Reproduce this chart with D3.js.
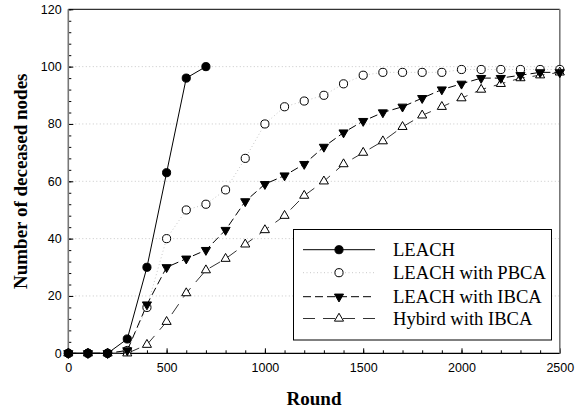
<!DOCTYPE html>
<html><head><meta charset="utf-8">
<script src="https://cdn.jsdelivr.net/npm/d3@7/dist/d3.min.js"></script>
<style>
html,body{margin:0;padding:0;background:#fff;}
svg{display:block;}
</style></head>
<body>
<svg id="chart" width="575" height="414"></svg>
<script>
// ---- data ----
const rounds = [0,100,200,300,400,500,600,700,800,900,1000,1100,1200,1300,1400,1500,1600,1700,1800,1900,2000,2100,2200,2300,2400,2500];
const leachRounds = [0,100,200,300,400,500,600,700];
const leach  = [0,0,0,5,30,63,96,100];
const pbca   = [0,0,0,1,16,40,50,52,57,68,80,86,88,90,94,97,98,98,98,98,99,99,99,99,99,99];
const ibca   = [0,0,0,1,17,30,33,36,43,53,59,62,66,72,77,81,84,86,89,92,94,96,96,97,98,98];
const hybrid = [0,0,0,0,3,11,21,29,33,38,43,48,55,60,66,70,74,79,83,86,89,92,94,96,97,98];
const seriesNames = ["LEACH","LEACH with PBCA","LEACH with IBCA","Hybird with IBCA"];
const xTicks = [0,500,1000,1500,2000,2500];
const yTicks = [0,20,40,60,80,100,120];
const gridValues = [20,40,60,80,100];
const xLabel = "Round";
const yLabel = "Number of deceased nodes";

// ---- layout ----
const svg = d3.select("#chart");
const L = 68.3, R = 559.8, T = 9.3, B = 353.3;
const x = d3.scaleLinear().domain([0,2500]).range([L,R]);
const y = d3.scaleLinear().domain([0,120]).range([B,T]);

const styles = [
  {stroke:"#000", width:1, dash:null, sym:d3.symbolCircle, size:52, fill:"#000", rot:0},
  {stroke:"#c8c8c8", width:1, dash:"1,2.5", sym:d3.symbolCircle, size:52, fill:"#fff", rot:0},
  {stroke:"#000", width:1, dash:"8,4", sym:d3.symbolTriangle, size:36, fill:"#000", rot:180},
  {stroke:"#333", width:1, dash:"12,8", sym:d3.symbolTriangle, size:36, fill:"#fff", rot:0}
];
const data = [
  leachRounds.map((r,i)=>[r,leach[i]]),
  rounds.map((r,i)=>[r,pbca[i]]),
  rounds.map((r,i)=>[r,ibca[i]]),
  rounds.map((r,i)=>[r,hybrid[i]])
];

// gridlines
svg.append("g").selectAll("line").data(gridValues).join("line")
  .attr("x1",L).attr("x2",R).attr("y1",d=>y(d)).attr("y2",d=>y(d))
  .attr("stroke","#c8c8c8").attr("stroke-width",1).attr("stroke-dasharray","1,2.5");

// axes
const fontSans = "'Liberation Sans', Arial, sans-serif";
const xAxisMinor = d3.axisBottom(x).tickValues(d3.range(0,2501,100)).tickSize(-3).tickSizeOuter(0).tickFormat("");
const xAxis = d3.axisBottom(x).tickValues(xTicks).tickSize(-5).tickSizeOuter(0).tickPadding(9.5).tickFormat(d3.format("d"));
const yAxisMinor = d3.axisLeft(y).tickValues(d3.range(0,121,4)).tickSize(-3).tickSizeOuter(0).tickFormat("");
const yAxis = d3.axisLeft(y).tickValues(yTicks).tickSize(-5).tickSizeOuter(0).tickPadding(6.6).tickFormat(d3.format("d"));

function styleAxis(g){
  g.select(".domain").remove();
  g.selectAll("line").attr("stroke","#000");
  g.selectAll("text").attr("font-family",fontSans).attr("font-size","12.5px").attr("fill","#000");
}
svg.append("g").attr("transform",`translate(0,${B})`).call(xAxisMinor).call(styleAxis);
svg.append("g").attr("transform",`translate(0,${B})`).call(xAxis).call(styleAxis);
svg.append("g").attr("transform",`translate(${L},0)`).call(yAxisMinor).call(styleAxis);
svg.append("g").attr("transform",`translate(${L},0)`).call(yAxis).call(styleAxis);

// frame
svg.append("line").attr("x1",L).attr("x2",R).attr("y1",T).attr("y2",T).attr("stroke","#000").attr("stroke-width",1);
svg.append("line").attr("x1",L).attr("x2",R).attr("y1",B).attr("y2",B).attr("stroke","#000").attr("stroke-width",1.2);
svg.append("line").attr("x1",L).attr("x2",L).attr("y1",T).attr("y2",B).attr("stroke","#777").attr("stroke-width",1.6);
svg.append("line").attr("x1",R).attr("x2",R).attr("y1",T).attr("y2",B).attr("stroke","#777").attr("stroke-width",1.6);

// series lines
const line = d3.line().x(d=>x(d[0])).y(d=>y(d[1]));
const drawOrder = [1,3,2,0];
drawOrder.forEach(i=>{
  const s = styles[i];
  svg.append("path").datum(data[i]).attr("d",line)
    .attr("fill","none").attr("stroke",s.stroke).attr("stroke-width",s.width)
    .attr("stroke-dasharray",s.dash);
});
drawOrder.forEach(i=>{
  const s = styles[i];
  const sym = d3.symbol().type(s.sym).size(s.size);
  svg.append("g").selectAll("path").data(data[i]).join("path")
    .attr("d",sym)
    .attr("transform",d=>`translate(${x(d[0])},${y(d[1])}) rotate(${s.rot})`)
    .attr("fill",s.fill).attr("stroke","#000").attr("stroke-width",1);
});

// axis titles
const fontSerif = "'Liberation Serif','Times New Roman',serif";
svg.append("text").attr("x",(L+R)/2).attr("y",405).attr("text-anchor","middle")
  .attr("font-family",fontSerif).attr("font-weight","bold").attr("font-size","19px").text(xLabel);
svg.append("text").attr("transform",`translate(26.5,${(T+B)/2}) rotate(-90)`).attr("text-anchor","middle")
  .attr("font-family",fontSerif).attr("font-weight","bold").attr("font-size","19px").text(yLabel);

// legend
const lg = svg.append("g");
lg.append("rect").attr("x",293.5).attr("y",229.5).attr("width",258).attr("height",110.5)
  .attr("fill","#fff").attr("stroke","#000").attr("stroke-width",1);
const rowY = [249.7,272.7,296.7,318.5];
seriesNames.forEach((name,i)=>{
  const s = styles[i];
  lg.append("line").attr("x1",303).attr("x2",375).attr("y1",rowY[i]).attr("y2",rowY[i])
    .attr("stroke",s.stroke).attr("stroke-width",s.width).attr("stroke-dasharray",s.dash);
  lg.append("path").attr("d",d3.symbol().type(s.sym).size(s.size))
    .attr("transform",`translate(339,${rowY[i]}) rotate(${s.rot})`)
    .attr("fill",s.fill).attr("stroke","#000").attr("stroke-width",1);
  lg.append("text").attr("x",393).attr("y",rowY[i]+6.2)
    .attr("font-family",fontSerif).attr("font-size","18.6px").attr("fill","#000").text(name);
});
</script>
</body></html>
